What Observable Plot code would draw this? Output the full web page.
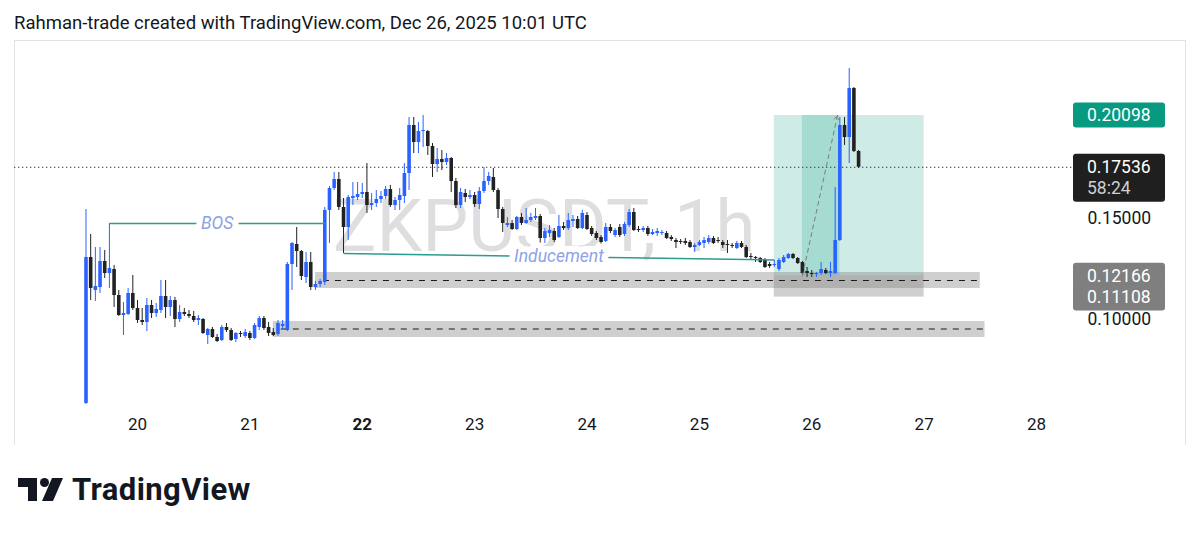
<!DOCTYPE html>
<html><head><meta charset="utf-8">
<script src="https://cdn.jsdelivr.net/npm/d3@7"></script>
<script src="https://cdn.jsdelivr.net/npm/@observablehq/plot@0.6"></script>
<style>
body{margin:0;background:#fff;font-family:Roboto,"Noto Sans",sans-serif;}
#wrap{position:relative;width:1200px;height:534px;overflow:hidden;background:#fff}
#title{position:absolute;left:14px;top:13px;font-size:18.5px;line-height:20px;color:#131722;white-space:nowrap}
#chart{position:absolute;left:0;top:40px}
#logo{position:absolute;left:0;top:0}
</style></head><body>
<div id="wrap">
<div id="title">Rahman-trade created with TradingView.com, Dec 26, 2025 10:01 UTC</div>
<div id="chart"></div>
<svg id="logo" width="300" height="534">
  <path d="M18 478 H37 V501 H28 V487 H18 Z" fill="#131722"/>
  <circle cx="44.5" cy="482.5" r="4.5" fill="#131722"/>
  <path d="M52 478 H63 L53 501 H42 Z" fill="#131722"/>
  <text x="72" y="500" font-family="Roboto,sans-serif" font-weight="700" font-size="31" letter-spacing="0.4" fill="#131722">TradingView</text>
</svg>
</div>
<script>
// ---- data (hourly bars, first bar at firstBar) ----
const firstBar = "2025-12-19T13:00:00Z";
const open = [
0.05843,0.13070,0.11436,0.11585,0.12872,0.12278,0.12476,0.11189,0.10199,0.10248,
0.11288,0.10545,0.09951,0.09852,0.10694,0.10298,0.10446,0.11139,0.10595,0.10941,
0.10001,0.10347,0.10248,0.10149,0.09951,0.10001,0.09208,0.09505,0.09109,0.08961,
0.09604,0.09456,0.09010,0.09307,0.09159,0.09307,0.09060,0.09604,0.10050,0.09604,
0.09357,0.09258,0.09654,0.09456,0.12723,0.13713,0.13367,0.12080,0.12822,0.11585,
0.11733,0.11832,0.15396,0.16485,0.16931,0.15545,0.14554,0.15990,0.16040,0.16188,
0.16287,0.15644,0.15743,0.15941,0.16089,0.16436,0.15644,0.15891,0.16089,0.17228,
0.19604,0.18762,0.19306,0.19306,0.18564,0.17673,0.17921,0.17772,0.17970,0.16832,
0.15644,0.16238,0.16040,0.16139,0.15693,0.16337,0.16832,0.17030,0.16386,0.15446,
0.14653,0.14752,0.14455,0.15050,0.14752,0.14901,0.15000,0.15099,0.14010,0.14257,
0.14356,0.14059,0.14604,0.14505,0.14852,0.14951,0.14505,0.15149,0.14505,0.14257,
0.14059,0.13862,0.14554,0.14158,0.14554,0.14208,0.14653,0.15297,0.14455,0.14406,
0.14505,0.14208,0.14257,0.14257,0.14257,0.14059,0.13911,0.13862,0.13862,0.13812,
0.13565,0.13664,0.13763,0.13812,0.14010,0.13911,0.13812,0.13713,0.13664,0.13515,
0.13763,0.13565,0.13119,0.13070,0.13020,0.12921,0.12723,0.12674,0.12476,0.12822,
0.13020,0.13218,0.13020,0.12822,0.12377,0.12278,0.12228,0.12278,0.12426,0.12278,
0.12278,0.13911,0.19604,0.19010,0.21435,0.18317];
const high = [
0.15446,0.14208,0.13565,0.13565,0.13416,0.14752,0.12674,0.11436,0.10842,0.11535,
0.12179,0.10941,0.10545,0.11040,0.10941,0.10793,0.11931,0.11931,0.11139,0.11090,
0.10694,0.10545,0.10446,0.10397,0.10199,0.10050,0.09555,0.09604,0.09258,0.09703,
0.09802,0.09555,0.09357,0.09406,0.09505,0.09406,0.09802,0.10149,0.10149,0.09852,
0.09555,0.09951,0.09951,0.12822,0.13812,0.14554,0.13416,0.13317,0.13317,0.11882,
0.11981,0.15545,0.16584,0.17277,0.17277,0.15990,0.16139,0.16782,0.16782,0.16733,
0.17722,0.16238,0.16386,0.16337,0.16584,0.16634,0.16040,0.16485,0.17722,0.20000,
0.20000,0.19752,0.20099,0.19356,0.18713,0.18465,0.18366,0.18218,0.18020,0.16980,
0.16485,0.16436,0.16386,0.16287,0.16535,0.17524,0.17277,0.17475,0.16485,0.15545,
0.15050,0.14901,0.15099,0.15248,0.15495,0.15248,0.15495,0.15198,0.14505,0.14653,
0.14505,0.15149,0.14802,0.15248,0.15149,0.15099,0.15396,0.15297,0.14604,0.14356,
0.14158,0.14752,0.14703,0.14505,0.14703,0.14802,0.15446,0.15495,0.14604,0.14604,
0.14604,0.14455,0.14505,0.14406,0.14356,0.14158,0.14010,0.13960,0.14010,0.13911,
0.13763,0.13911,0.14059,0.14158,0.14109,0.14059,0.13911,0.13911,0.13763,0.13862,
0.13862,0.13664,0.13268,0.13119,0.13070,0.13020,0.12822,0.12921,0.13020,0.13169,
0.13268,0.13268,0.13070,0.12872,0.12575,0.12426,0.12327,0.12822,0.12525,0.12822,
0.16535,0.20000,0.20000,0.22425,0.21484,0.18366];
const low = [
0.05793,0.10941,0.10892,0.11288,0.12030,0.11535,0.10595,0.10149,0.09208,0.10199,
0.10446,0.09802,0.09703,0.09406,0.10050,0.10100,0.10298,0.10050,0.10149,0.09604,
0.09852,0.10149,0.10050,0.09852,0.09703,0.09258,0.08763,0.09060,0.08862,0.08911,
0.09357,0.08911,0.08862,0.09109,0.09060,0.08961,0.09010,0.09456,0.09456,0.09159,
0.09159,0.09159,0.09505,0.09406,0.11436,0.12575,0.11931,0.11783,0.11436,0.11436,
0.11585,0.11684,0.13763,0.16386,0.15396,0.13268,0.13911,0.15644,0.15891,0.15990,
0.15248,0.15396,0.15545,0.15743,0.15941,0.15545,0.15396,0.15396,0.15743,0.16386,
0.18218,0.18218,0.18515,0.18119,0.17030,0.17277,0.17376,0.17624,0.16287,0.15495,
0.15495,0.15792,0.15941,0.15545,0.15446,0.16238,0.16634,0.16287,0.15000,0.14307,
0.14554,0.14406,0.14406,0.14653,0.14703,0.14802,0.14901,0.13515,0.13763,0.14059,
0.13812,0.14010,0.14406,0.14406,0.14554,0.14455,0.14455,0.14406,0.14109,0.13911,
0.13664,0.13812,0.14257,0.14059,0.14059,0.14109,0.14554,0.14356,0.14307,0.14307,
0.14109,0.14158,0.14109,0.14158,0.13960,0.13862,0.13515,0.13713,0.13664,0.13515,
0.13317,0.13614,0.13515,0.13713,0.13713,0.13763,0.13515,0.13268,0.13515,0.13466,
0.13515,0.13020,0.12921,0.12822,0.12773,0.12525,0.12525,0.12575,0.12377,0.12773,
0.12971,0.12971,0.12723,0.12228,0.12080,0.12080,0.12080,0.12179,0.12228,0.12080,
0.12228,0.13862,0.18614,0.17722,0.18267,0.17475];
const close = [
0.13070,0.11535,0.11634,0.12872,0.12278,0.12525,0.11189,0.10199,0.10298,0.11288,
0.10545,0.09951,0.09852,0.10694,0.10298,0.10496,0.11139,0.10595,0.10941,0.10001,
0.10347,0.10248,0.10149,0.09951,0.10050,0.09307,0.09505,0.09109,0.08911,0.09604,
0.09456,0.08961,0.09307,0.09258,0.09357,0.09060,0.09703,0.10050,0.09555,0.09307,
0.09208,0.09802,0.09753,0.12723,0.13763,0.13367,0.12129,0.12822,0.11585,0.11733,
0.11882,0.15396,0.16485,0.16931,0.15545,0.14554,0.16040,0.16089,0.16188,0.16287,
0.15644,0.15743,0.15941,0.16089,0.16436,0.15644,0.15891,0.16139,0.17228,0.19604,
0.18762,0.19306,0.19356,0.18564,0.17673,0.17921,0.17772,0.17970,0.16832,0.15644,
0.16287,0.16040,0.16139,0.15693,0.16337,0.16832,0.17079,0.16386,0.15446,0.14752,
0.14752,0.14455,0.15050,0.14752,0.14901,0.15050,0.15099,0.14010,0.14356,0.14406,
0.13911,0.14604,0.14505,0.14901,0.14951,0.14505,0.15248,0.14455,0.14208,0.14010,
0.13812,0.14554,0.14356,0.14406,0.14158,0.14703,0.15297,0.14406,0.14406,0.14505,
0.14208,0.14307,0.14356,0.14307,0.14010,0.13960,0.13812,0.13812,0.13763,0.13565,
0.13664,0.13812,0.13911,0.14010,0.13763,0.13862,0.13664,0.13664,0.13614,0.13763,
0.13565,0.13070,0.13070,0.13020,0.12822,0.12575,0.12624,0.12723,0.12921,0.13070,
0.13218,0.13020,0.12773,0.12278,0.12278,0.12228,0.12278,0.12476,0.12278,0.12377,
0.13911,0.19604,0.19010,0.21435,0.18317,0.17536];

const tickDays = ["2025-12-20","2025-12-21","2025-12-22","2025-12-23","2025-12-24","2025-12-25","2025-12-26","2025-12-27","2025-12-28"];
const weekStartDays = ["2025-12-22"];
const priceTicks = [0.10, 0.15];

const bosLine = [{start:"2025-12-19T18:00:00Z", end:"2025-12-21T16:00:00Z", price0:0.14752, price1:0.14752, label:"BOS"}];
const inducementLine = [{start:"2025-12-21T20:00:00Z", end:"2025-12-25T16:00:00Z", price0:0.13268, price1:0.12950, label:"Inducement"}];

const zoneStart = ["2025-12-21T14:00:00Z","2025-12-21T05:00:00Z"];
const zoneEnd   = ["2025-12-27T12:00:00Z","2025-12-27T13:00:00Z"];
const zoneTop   = [0.12327, 0.09900];
const zoneBottom= [0.11535, 0.09109];
const zoneMid   = [0.11931, 0.09530];

const position = {start:"2025-12-25T16:00:00Z", end:"2025-12-27T00:00:00Z", fillStart:"2025-12-25T22:00:00Z", fillEnd:"2025-12-26T06:00:00Z",
  entry:0.12166, target:0.20098, stop:0.11108, tradeEnd:"2025-12-26T05:30:00Z"};
const lastPrice = 0.17536;
const countdown = "58:24";
const watermark = "ZKPUSDT, 1h";

// ---- build tables ----
const HOUR = 3600e3;
const t0 = new Date(firstBar).getTime();
const candles = open.map((o, k) => ({t: new Date(t0 + k * HOUR), o, h: high[k], l: low[k], c: close[k]}));
const zones = zoneStart.map((s, k) => ({x1: new Date(s), x2: new Date(zoneEnd[k]), top: zoneTop[k], bottom: zoneBottom[k], mid: zoneMid[k]}));
const lines = [...bosLine, ...inducementLine].map(d => ({...d, x1: new Date(d.start), x2: new Date(d.end),
  xm: new Date((new Date(d.start).getTime() + new Date(d.end).getTime()) / 2), ym: (d.price0 + d.price1) / 2}));
const pos = [{...position, x1: new Date(position.start), x2: new Date(position.end), f1: new Date(position.fillStart), f2: new Date(position.fillEnd), te: new Date(position.tradeEnd)}];

const UP = "#2962ff", DOWN = "#222222", TEAL = "#2a9d8f", LBL = "#8da2e6";
const isUp = d => d.c >= d.o;

const plot = Plot.plot({
  width: 1200, height: 405,
  marginLeft: 14, marginRight: 15, marginTop: 0, marginBottom: 0,
  style: {fontFamily: "Roboto, sans-serif", background: "transparent"},
  x: {type: "utc", axis: null, domain: [new Date(tickDays[0]), new Date(tickDays[tickDays.length - 1])], range: [137, 1036]},
  y: {type: "linear", axis: null, domain: [priceTicks[0], priceTicks[1]], range: [279, 178]},
  marks: [
    Plot.frame({stroke: "#e3e3e3"}),
    Plot.text([watermark], {text: d => d, frameAnchor: "middle", dx: -56, dy: -15, fontSize: 73, fill: "#131722", fillOpacity: 0.14}),
    // long position
    Plot.rect(pos, {x1: "x1", x2: "x2", y1: "entry", y2: "target", fill: "#089981", fillOpacity: 0.2}),
    Plot.rect(pos, {x1: "f1", x2: "f2", y1: "entry", y2: "target", fill: "#089981", fillOpacity: 0.2}),
    Plot.rect(pos, {x1: "x1", x2: "x2", y1: "stop", y2: "entry", fill: "#808080", fillOpacity: 0.38}),
    // zones
    Plot.rect(zones, {x1: "x1", x2: "x2", y1: "bottom", y2: "top", fill: "#808080", fillOpacity: 0.38}),
    Plot.ruleY(zones, {y: "mid", x1: "x1", x2: "x2", stroke: "#1a1a1a", strokeWidth: 1.2, strokeDasharray: "6,6", insetLeft: 8}),
    // current price line
    Plot.ruleY([lastPrice], {stroke: "#333", strokeWidth: 1, strokeDasharray: "1.3,2.7", insetRight: 112}),
    // candles
    Plot.ruleX(candles, {filter: isUp, x: "t", y1: "l", y2: "h", stroke: UP, strokeWidth: 1}),
    Plot.ruleX(candles, {filter: d => !isUp(d), x: "t", y1: "l", y2: "h", stroke: DOWN, strokeWidth: 1}),
    Plot.ruleX(candles, {filter: isUp, x: "t", y1: "o", y2: "c", stroke: UP, strokeWidth: 3.6}),
    Plot.ruleX(candles, {filter: d => !isUp(d), x: "t", y1: "o", y2: "c", stroke: DOWN, strokeWidth: 3.6}),
    // trade path
    Plot.arrow(pos, {x1: "f1", y1: "entry", x2: "te", y2: "target", stroke: "#787b86", strokeWidth: 1, strokeDasharray: "4,4", headLength: 7}),
    // BOS / Inducement
    Plot.link(lines, {x1: "x1", x2: "x2", y1: "price0", y2: "price1", stroke: TEAL, strokeWidth: 1.5}),
    Plot.text(lines, {x: "xm", y: "ym", text: "label", fontSize: 17.5, fontStyle: "italic", fill: LBL, stroke: "white", strokeWidth: 12}),
    // x axis labels
    Plot.text(tickDays.filter(d => !weekStartDays.includes(d)), {x: d => new Date(d), text: d => String(new Date(d).getUTCDate()), frameAnchor: "bottom", dy: -16, fontSize: 17, fill: "#131722"}),
    Plot.text(weekStartDays, {x: d => new Date(d), text: d => String(new Date(d).getUTCDate()), frameAnchor: "bottom", dy: -16, fontSize: 17, fontWeight: "bold", fill: "#131722"}),
    // y axis labels
    Plot.text(priceTicks, {y: d => d, text: d => d.toFixed(5), frameAnchor: "right", dx: -98, textAnchor: "start", fontSize: 17.5, fill: "#131722"})
  ]
});
document.getElementById("chart").appendChild(plot);

// price label boxes on the price scale, placed with Plot's y scale
const ys = plot.scale("y");
const svg = d3.select(plot);
const g = svg.append("g").attr("font-family", "Roboto, sans-serif").attr("font-size", 17.5).attr("text-anchor", "start");
function label(price, up, down, fill, lines) {
  const yc = ys.apply(price);
  g.append("rect").attr("x", 1073).attr("y", yc - up).attr("width", 92).attr("height", up + down).attr("rx", 3).attr("fill", fill);
  lines.forEach(([txt, col, dy]) => g.append("text").attr("x", 1087).attr("y", yc + dy).attr("dy", "0.36em").attr("text-anchor", "start").attr("fill", col).text(txt));
}
label(position.target, 12.5, 12.5, "#089981", [[position.target.toFixed(5), "#fff", 0]]);
label(lastPrice, 13, 35, "#1f1f1f", [[lastPrice.toFixed(5), "#fff", 0], [countdown, "#cfcfcf", 21]]);
label(position.entry, 12.5, 12.5, "#7f7f7f", [[position.entry.toFixed(5), "#fff", 0]]);
label(position.stop, 12, 14, "#7f7f7f", [[position.stop.toFixed(5), "#fff", 0]]);
</script>
</body></html>
